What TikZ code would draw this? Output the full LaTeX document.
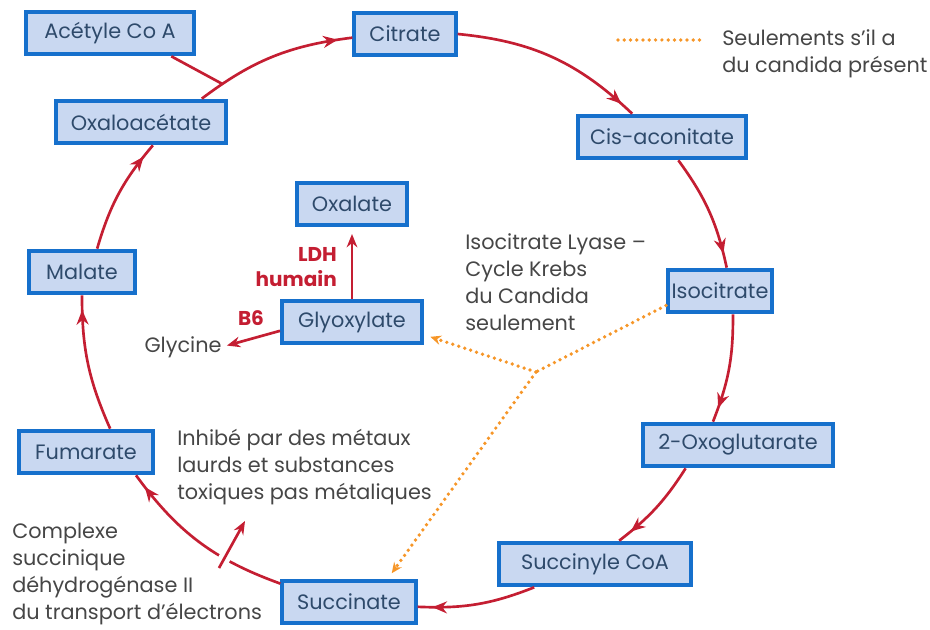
\documentclass[tikz,border=0pt]{standalone}
\usepackage{fontspec}
\setmainfont{Poppins}
\usepackage{xcolor}
\usetikzlibrary{arrows.meta,decorations.markings}
\definecolor{boxfill}{RGB}{201,216,241}
\definecolor{boxline}{RGB}{22,112,204}
\definecolor{boxtext}{RGB}{46,74,107}
\definecolor{krebsred}{RGB}{196,30,50}
\definecolor{candida}{RGB}{246,150,40}
\definecolor{note}{RGB}{70,70,70}

\begin{document}
\begin{tikzpicture}[x=0.75pt, y=-0.75pt, font=\fontsize{15.6}{20.3}\selectfont,
	acide/.style={draw=boxline, fill=boxfill, text=boxtext, line width=3pt, minimum height=32pt, inner sep=0pt},
	cyclearr/.style={color=krebsred, line width=2pt, postaction={decorate},
		decoration={markings, mark=at position -11pt with {\arrow{Stealth[length=11pt,width=9pt]}}}},
	krebsline/.style={color=krebsred, line width=2pt},
	enzyme/.style={color=krebsred, line width=2pt, -{Stealth[length=10pt,width=8pt]}},
	seul/.style={color=candida, line width=2.8pt, line cap=round, dash pattern=on 0pt off 4.7pt},
	remarque/.style={text=note, align=left, inner sep=0pt},
	enzlabel/.style={text=krebsred, font=\fontsize{15}{19}\selectfont\bfseries, align=right, inner sep=0pt}]
\useasboundingbox (0,0) rectangle (930,630);

\node[acide, minimum width=126pt] (acetyl) at (110,33) {Acétyle Co A};
\node[acide, minimum width=76pt] (citrate) at (405,34) {Citrate};
\node[acide, minimum width=126pt] (cisacon) at (662,137) {Cis-aconitate};
\node[acide, minimum width=78pt] (isocit) at (720,291) {Isocitrate};
\node[acide, minimum width=142pt] (oxoglu) at (738,445) {2-Oxoglutarate};
\node[acide, minimum width=144pt] (succoa) at (595,564) {Succinyle CoA};
\node[acide, minimum width=100pt] (succin) at (349,602) {Succinate};
\node[acide, minimum width=100pt] (fumar) at (86,452) {Fumarate};
\node[acide, minimum width=80pt] (malate) at (82,272) {Malate};
\node[acide, minimum width=128pt] (oxalo) at (141,122) {Oxaloacétate};
\node[acide, minimum width=82pt] (oxalate) at (352,204) {Oxalate};
\node[acide, minimum width=105pt] (glyox) at (352,322) {Glyoxylate};

\node[remarque] (glycine) at (183,347) {Glycine};
\node[enzlabel] (b6) at (251,318) {B6};
\node[enzlabel, anchor=east] (ldh) at (337,267) {LDH\\humain};
\node[remarque, anchor=west] (lyase) at (465,282) {Isocitrate Lyase –\\Cycle Krebs\\du Candida\\seulement};
\node[remarque, anchor=west] (inhibe) at (177,467) {Inhibé par des métaux\\laurds et substances\\toxiques pas métaliques};
\node[remarque, anchor=west] (complexe) at (12,574) {Complexe\\succinique\\déhydrogénase II\\du transport d’électrons};
\node[remarque, anchor=west] (legende) at (722,54) {Seulements s’il a\\du candida présent};

% cycle de Krebs
\draw[cyclearr] (oxalo.21) to[bend left=15] coordinate[pos=0.14] (join) (citrate.-176);
\draw[cyclearr] (citrate.east) to[bend left=19] (cisacon.142);
\draw[cyclearr] (cisacon.-55) to[bend left=12] (isocit.74);
\draw[cyclearr] (isocit.-61) to[bend left=11] (oxoglu.137);
\draw[cyclearr] (oxoglu.-156) to[bend left=10] (succoa.44);
\draw[cyclearr] (succoa.-159) to[bend left=12] (succin.-4);
\draw[cyclearr] (succin.165) to[bend left=17] (fumar.-25);
\draw[cyclearr] (fumar.44) to[bend left=12] (malate.south);
\draw[cyclearr] (malate.57) to[bend left=12] (oxalo.-63);
\draw[krebsline] ([xshift=46pt]acetyl.south) -- (join);

\coordinate (inhbase) at (219,568);
\coordinate (inhtip) at (245,521);
\path (inhbase) -- (inhtip) coordinate[pos=0.32] (inhgap);
\draw[white, line width=9pt] (inhbase) -- (inhgap);
\draw[enzyme] (inhbase) -- (inhtip);

\draw[enzyme, shorten >=5pt] (glyox.north) -- (oxalate.south);
\draw[enzyme, shorten >=4pt] (glyox.-173) -- (glycine.east);

% seulement avec Candida
\coordinate (fork) at (536,372);
\draw[seul] (isocit.-165) -- (fork);
\draw[seul, -{Stealth[length=8pt,width=7pt]}, shorten >=5pt] (fork) -- (glyox.-10);
\draw[seul, -{Stealth[length=8pt,width=7pt]}, shorten >=5pt] (fork) -- (succin.31);

\coordinate (legA) at (618,40);
\coordinate (legB) at (705,40);
\draw[seul] (legA) -- (legB);
\end{tikzpicture}
\end{document}
